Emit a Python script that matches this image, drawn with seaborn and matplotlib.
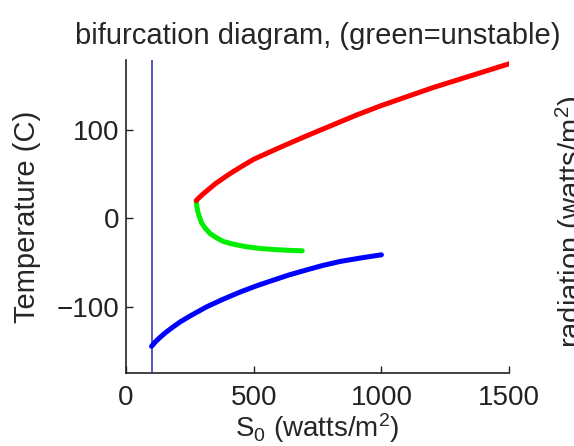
import numpy as np
import pandas as pd
import matplotlib
matplotlib.use("Agg")
import matplotlib.pyplot as plt
import seaborn as sns

# values
s_cold = [100, 115, 133, 155, 185, 215, 250, 316, 380, 446, 510, 577, 640, 707, 770, 838, 920, 1000]
t_cold = [-144, -139, -134, -128.5, -122, -116, -110, -99.5, -91, -83, -76, -69.5, -63.5, -58, -53, -48.5, -44.5, -41]

s_warm = [275, 285, 300, 325, 350, 400, 450, 500, 550, 600, 700, 800, 900, 1000, 1100, 1200, 1300, 1400, 1500]
t_warm = [20, 23, 27, 33, 39, 49, 58, 66.5, 73, 79.5, 92, 104, 116, 127, 137, 147, 156, 165, 174]

s_unstable = [275, 277, 281, 287, 296, 310, 329, 355, 381, 420, 472, 530, 577, 640, 690]
t_unstable = [20, 14, 8, 2, -5, -11, -17, -22, -26, -29, -32, -34, -35, -36, -36.5]

s_line = 100  # vertical marker

sns.set_style("ticks")
plt.rcParams['font.family'] = ['Liberation Sans', 'DejaVu Sans']

fig = plt.figure(figsize=(5.74, 4.46), dpi=100)
ax = fig.add_axes([0.2195, 0.1637, 0.6675, 0.7013])

ax.axvline(s_line, color='#2828b0', lw=1.1)

cold = pd.DataFrame({'S0': s_cold, 'T': t_cold})
warm = pd.DataFrame({'S0': s_warm, 'T': t_warm})
unst = pd.DataFrame({'S0': s_unstable, 'T': t_unstable})
sns.lineplot(data=cold, x='S0', y='T', color='#0000ff', lw=3.6, ax=ax, sort=False)
sns.lineplot(data=unst, x='S0', y='T', color='#00ee00', lw=3.6, ax=ax, sort=False)
sns.lineplot(data=warm, x='S0', y='T', color='#ff0000', lw=3.6, ax=ax, sort=False)

ax.set_xlim(0, 1500)
ax.set_ylim(-174, 178)
ax.set_xticks([0, 500, 1000, 1500])
ax.set_yticks([-100, 0, 100])
ax.tick_params(direction='in', labelsize=20, length=5, width=1, colors='#222222')
ax.tick_params(axis='x', pad=9)
ax.tick_params(axis='y', pad=5)
for side in ['left', 'bottom']:
    ax.spines[side].set_color('#222222')
    ax.spines[side].set_linewidth(1.2)
sns.despine(ax=ax)

ax.set_xlabel(r'$\mathregular{S_0}$ (watts/m$\mathregular{^2}$)', fontsize=20, labelpad=0)
ax.set_ylabel('Temperature (C)', fontsize=21, labelpad=11)
ax.set_title('bifurcation diagram, (green=unstable)', fontsize=21, pad=12)

fig.text(0.965, 0.502, r'radiation (watts/m$\mathregular{^2}$)', rotation=90, fontsize=21,
         ha='left', va='center')

fig.savefig('out.png', dpi=100)
